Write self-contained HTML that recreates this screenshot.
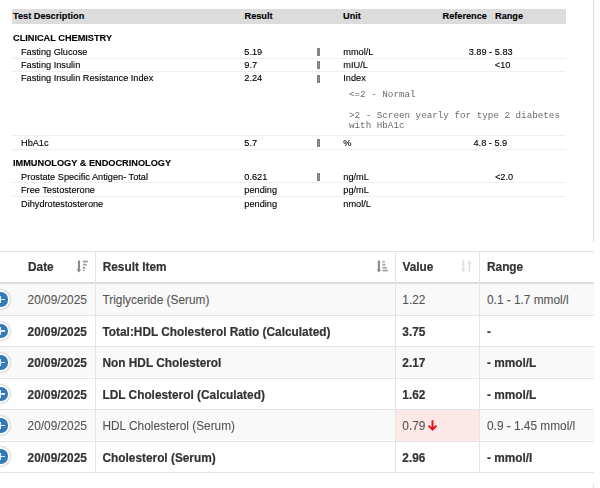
<!DOCTYPE html>
<html><head><meta charset="utf-8">
<style>
html,body{margin:0;padding:0;background:#fff;width:600px;height:488px;overflow:hidden;position:relative}
body{font-family:"Liberation Sans",sans-serif}
.t{position:absolute;white-space:nowrap;font-size:9.2px;line-height:13px;color:#000;-webkit-text-stroke:0.12px #000;transform:scaleY(1.07);transform-origin:0 9.7px}
.b{font-weight:bold;color:#000}
.hl{position:absolute;left:12px;width:554px;height:1px;background:#efefef}
.pm{position:absolute;left:317.4px;width:2.8px;height:8px;background:#858585}
.mono{position:absolute;white-space:pre;font-family:"Liberation Mono",monospace;font-size:9.25px;line-height:10px;color:#6a6a6a}
.vl{position:absolute;width:1px;background:#dcdcdc}
.bt{position:absolute;white-space:nowrap;font-size:11.85px;line-height:16px;color:#555;-webkit-text-stroke:0.1px #555}
.bb{font-weight:bold;color:#333;-webkit-text-stroke:0.2px #333}
.row{position:absolute;left:0;width:594px}
.rb{position:absolute;left:0;width:594px;height:1px;background:#e4e4e4}
.cv{position:absolute;width:1px;background:#e4e4e4}
.ctl{position:absolute;left:-8.4px;width:14.4px;height:14.4px;border:2px solid #fff;border-radius:50%;background:#337ab7;box-shadow:0 0 2px #888}
.ctl:before,.ctl:after{content:"";position:absolute;background:#fff}
.ctl:before{left:6.7px;top:3.5px;width:1.1px;height:7.4px;background:#dfeaf5}
.ctl:after{left:3.5px;top:6.7px;width:7.4px;height:1.1px;background:#dfeaf5}
</style></head><body><div id="w" style="position:absolute;left:0;top:0;width:600px;height:488px;filter:blur(0.35px)">
<!-- right panel line -->
<div class="vl" style="left:593px;top:0;height:242px"></div>
<div class="vl" style="left:593px;top:484px;height:4px"></div>

<!-- top header bar -->
<div style="position:absolute;left:12px;top:9.3px;width:554px;height:15px;background:#dcdcdc"></div>
<div class="t b" style="left:13px;top:9.8px">Test Description</div>
<div class="t b" style="left:244.5px;top:9.8px">Result</div>
<div class="t b" style="left:343px;top:9.8px">Unit</div>
<div class="t b" style="left:442.5px;top:9.8px">Reference</div>
<div class="t b" style="left:495px;top:9.8px">Range</div>

<div class="t b" style="left:13px;top:31.9px">CLINICAL CHEMISTRY</div>

<div class="t" style="left:21px;top:46.0px">Fasting Glucose</div>
<div class="t" style="left:244.3px;top:46.0px">5.19</div>
<div class="pm" style="top:48.3px"></div>
<div class="t" style="left:343.3px;top:46.0px">mmol/L</div>
<div class="t" style="left:468.7px;top:46.0px">3.89 - 5.83</div>
<div class="hl" style="top:58px"></div>

<div class="t" style="left:21px;top:59.0px">Fasting Insulin</div>
<div class="t" style="left:244.3px;top:59.0px">9.7</div>
<div class="pm" style="top:61.3px"></div>
<div class="t" style="left:343.3px;top:59.0px">mIU/L</div>
<div class="t" style="left:494.8px;top:59.0px">&lt;10</div>
<div class="hl" style="top:71px"></div>

<div class="t" style="left:21px;top:72.3px">Fasting Insulin Resistance Index</div>
<div class="t" style="left:244.3px;top:72.3px">2.24</div>
<div class="pm" style="top:74.6px"></div>
<div class="t" style="left:343.3px;top:72.3px">Index</div>
<div class="mono" style="left:349px;top:89.5px">&lt;=2 - Normal</div>
<div class="mono" style="left:349px;top:111.2px">&gt;2 - Screen yearly for type 2 diabetes
with HbA1c</div>
<div class="hl" style="top:135px"></div>

<div class="t" style="left:21px;top:137.0px">HbA1c</div>
<div class="t" style="left:244.3px;top:137.0px">5.7</div>
<div class="pm" style="top:139.3px"></div>
<div class="t" style="left:343.3px;top:137.0px">%</div>
<div class="t" style="left:473.5px;top:137.0px">4.8 - 5.9</div>
<div class="hl" style="top:149px"></div>

<div class="t b" style="left:13px;top:156.7px">IMMUNOLOGY &amp; ENDOCRINOLOGY</div>

<div class="t" style="left:21px;top:170.6px">Prostate Specific Antigen- Total</div>
<div class="t" style="left:244.3px;top:170.6px">0.621</div>
<div class="pm" style="top:172.9px"></div>
<div class="t" style="left:343.3px;top:170.6px">ng/mL</div>
<div class="t" style="left:495px;top:170.6px">&lt;2.0</div>
<div class="hl" style="top:182px"></div>

<div class="t" style="left:21px;top:184.0px">Free Testosterone</div>
<div class="t" style="left:244.3px;top:184.0px">pending</div>
<div class="t" style="left:343.3px;top:184.0px">pg/mL</div>
<div class="hl" style="top:196px"></div>

<div class="t" style="left:21px;top:197.7px">Dihydrotestosterone</div>
<div class="t" style="left:244.3px;top:197.7px">pending</div>
<div class="t" style="left:343.3px;top:197.7px">nmol/L</div>

<!-- bottom table -->
<div class="rb" style="top:251px"></div>
<div class="rb" style="top:282px;height:2px;background:#dcdcdc"></div>
<div class="row" style="top:284px;height:30.5px;background:#f9f9f9"></div>
<div class="row" style="top:346px;height:31px;background:#f9f9f9"></div>
<div class="row" style="top:409px;height:31px;background:#f9f9f9"></div>
<div style="position:absolute;left:395px;top:410px;width:84px;height:30.5px;background:#fde8e8"></div>
<div class="rb" style="top:314.5px"></div>
<div class="rb" style="top:346px"></div>
<div class="rb" style="top:377.5px"></div>
<div class="rb" style="top:409px"></div>
<div class="rb" style="top:440.5px"></div>
<div class="rb" style="top:472px"></div>
<div class="cv" style="left:94.5px;top:251px;height:221px"></div>
<div class="cv" style="left:394.5px;top:251px;height:221px"></div>
<div class="cv" style="left:479px;top:251px;height:221px"></div>

<div class="bt bb" style="left:28px;top:258.5px">Date</div>
<div class="bt bb" style="left:102.7px;top:258.5px">Result Item</div>
<div class="bt bb" style="left:402.5px;top:258.5px">Value</div>
<div class="bt bb" style="left:487px;top:258.5px">Range</div>

<div class="bt" style="left:27.6px;top:292px">20/09/2025</div>
<div class="bt" style="left:102.5px;top:292px">Triglyceride (Serum)</div>
<div class="bt" style="left:402.3px;top:292px">1.22</div>
<div class="bt" style="left:487px;top:292px">0.1 - 1.7 mmol/l</div>

<div class="bt bb" style="left:27.6px;top:323.5px">20/09/2025</div>
<div class="bt bb" style="left:102.5px;top:323.5px">Total:HDL Cholesterol Ratio (Calculated)</div>
<div class="bt bb" style="left:402.3px;top:323.5px">3.75</div>
<div class="bt bb" style="left:487px;top:323.5px">-</div>

<div class="bt bb" style="left:27.6px;top:355px">20/09/2025</div>
<div class="bt bb" style="left:102.5px;top:355px">Non HDL Cholesterol</div>
<div class="bt bb" style="left:402.3px;top:355px">2.17</div>
<div class="bt bb" style="left:487px;top:355px">- mmol/L</div>

<div class="bt bb" style="left:27.6px;top:386.5px">20/09/2025</div>
<div class="bt bb" style="left:102.5px;top:386.5px">LDL Cholesterol (Calculated)</div>
<div class="bt bb" style="left:402.3px;top:386.5px">1.62</div>
<div class="bt bb" style="left:487px;top:386.5px">- mmol/L</div>

<div class="bt" style="left:27.6px;top:418px">20/09/2025</div>
<div class="bt" style="left:102.5px;top:418px">HDL Cholesterol (Serum)</div>
<div class="bt" style="left:402.3px;top:418px">0.79</div>
<div class="bt" style="left:487px;top:418px">0.9 - 1.45 mmol/l</div>

<div class="bt bb" style="left:27.6px;top:449.5px">20/09/2025</div>
<div class="bt bb" style="left:102.5px;top:449.5px">Cholesterol (Serum)</div>
<div class="bt bb" style="left:402.3px;top:449.5px">2.96</div>
<div class="bt bb" style="left:487px;top:449.5px">- mmol/l</div>

<div class="ctl" style="top:290.3px"></div>
<div class="ctl" style="top:321.8px"></div>
<div class="ctl" style="top:353.3px"></div>
<div class="ctl" style="top:384.8px"></div>
<div class="ctl" style="top:416.3px"></div>
<div class="ctl" style="top:447.3px"></div>

<svg style="position:absolute;left:76px;top:260px" width="13" height="14" viewBox="0 0 13 14">
<rect x="1.9" y="0.5" width="2.1" height="9.5" fill="#8a8a8a"/>
<polygon points="0.5,9.4 5.4,9.4 2.95,12.6" fill="#8a8a8a"/>
<rect x="6.9" y="0.7" width="4.9" height="1.7" fill="#9a9a9a"/>
<rect x="6.9" y="3.8" width="3.6" height="1.7" fill="#9a9a9a"/>
<rect x="6.9" y="7.0" width="2.4" height="1.7" fill="#9a9a9a"/>
<rect x="6.9" y="9.6" width="1.6" height="1.6" fill="#9a9a9a"/>
</svg>
<svg style="position:absolute;left:376px;top:260px" width="13" height="14" viewBox="0 0 13 14">
<rect x="1.8" y="0.5" width="2.2" height="9.5" fill="#8f8f8f"/>
<polygon points="0.5,9.4 5.3,9.4 2.9,12.6" fill="#8f8f8f"/>
<rect x="6.5" y="0.9" width="2.2" height="1.8" fill="#a8a8a8"/>
<rect x="6.5" y="3.8" width="2.8" height="1.8" fill="#a0a0a0"/>
<rect x="6.5" y="6.9" width="4.4" height="1.6" fill="#a0a0a0"/>
<rect x="6.5" y="9.6" width="5.3" height="1.8" fill="#a0a0a0"/>
</svg>
<svg style="position:absolute;left:460px;top:260px" width="14" height="14" viewBox="0 0 14 14">
<rect x="2.5" y="0.3" width="1.8" height="10" fill="#e0e0e0"/>
<polygon points="1,9 5.8,9 3.4,12.4" fill="#e0e0e0"/>
<rect x="8.5" y="2.3" width="1.8" height="10" fill="#e0e0e0"/>
<polygon points="6.9,3.6 11.8,3.6 9.4,0.3" fill="#e0e0e0"/>
</svg>
<svg style="position:absolute;left:427px;top:419px" width="12" height="13" viewBox="0 0 12 13">
<path d="M5.5,1.2 V10.6 M1.6,6.6 L5.5,10.6 L9.4,6.6" stroke="#e8101a" stroke-width="2" fill="none"/>
</svg>
</div></body></html>
